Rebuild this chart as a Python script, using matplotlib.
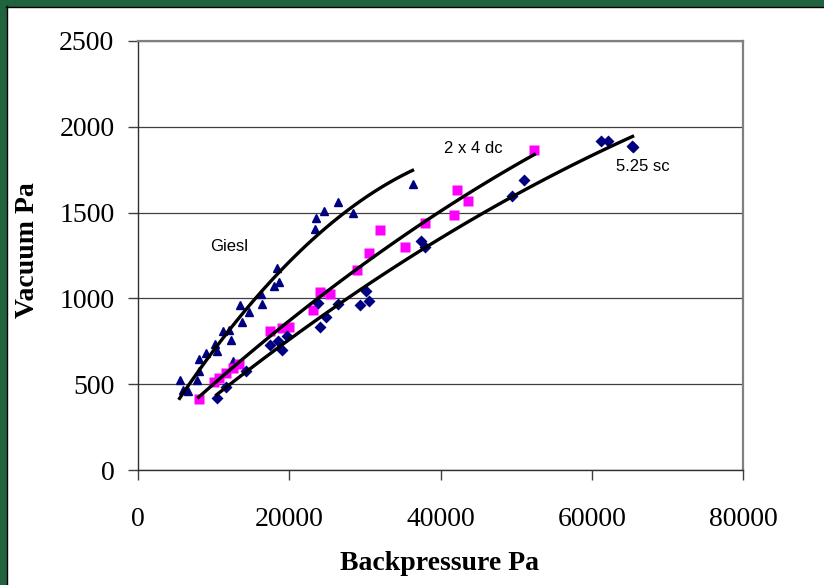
import numpy as np
import matplotlib.pyplot as plt
from matplotlib.patches import Rectangle

# datos (Pa)
giesl_x = [5500, 5900, 6600, 7800, 8000, 8100, 9000, 10400, 10200, 11300, 12300, 12000, 12600, 13700,
           13500, 14700, 16200, 16400, 18000, 18700, 18400, 23400, 23600, 24600, 26400, 28400, 36300]
giesl_y = [525, 465, 460, 525, 575, 645, 680, 695, 735, 810, 755, 815, 635, 860,
           960, 920, 1025, 970, 1075, 1095, 1180, 1405, 1470, 1510, 1560, 1500, 1665]

dc_x = [8000, 10000, 10700, 11700, 12600, 13400, 17400, 19100, 20000, 23100, 24000, 25400, 28900,
        30600, 32000, 35300, 37900, 41800, 42200, 43700, 52400]
dc_y = [415, 515, 535, 565, 595, 620, 810, 830, 835, 935, 1035, 1025, 1165,
        1265, 1400, 1300, 1440, 1485, 1630, 1565, 1865]

sc_x = [10400, 11700, 14300, 17400, 18500, 19000, 19700, 23800, 24100, 24900, 26400, 29300, 30200,
        30500, 37400, 38000, 49500, 51000, 61200, 62100, 65400, 65300]
sc_y = [420, 485, 575, 730, 750, 700, 780, 975, 835, 890, 970, 960, 1045,
        985, 1335, 1300, 1595, 1690, 1920, 1920, 1880, 1890]

x_ticks = [0, 20000, 40000, 60000, 80000]
y_ticks = [0, 500, 1000, 1500, 2000, 2500]

plt.rcParams['font.family'] = ['Liberation Serif', 'DejaVu Serif']

fig = plt.figure(figsize=(8.24, 5.85), dpi=100)
fig.patch.set_facecolor('white')

# marco verde de la diapositiva (arriba e izquierda)
fig.add_artist(Rectangle((0, 1 - 6 / 585), 1, 6 / 585, transform=fig.transFigure, color='#21623f', zorder=0))
fig.add_artist(Rectangle((0, 0), 6 / 824, 1, transform=fig.transFigure, color='#21623f', zorder=0))
fig.add_artist(plt.Line2D([6 / 824, 1], [1 - 6.5 / 585, 1 - 6.5 / 585], transform=fig.transFigure, color='black', lw=1))
fig.add_artist(plt.Line2D([6.5 / 824, 6.5 / 824], [0, 1 - 6 / 585], transform=fig.transFigure, color='black', lw=1))

ax = fig.add_axes([138 / 824, 115 / 585, 605 / 824, 429 / 585])

ax.plot(giesl_x, giesl_y, '^', color='#000080', ms=6, zorder=3)
ax.plot(dc_x, dc_y, 's', color='#ff00ff', ms=7.2, mec='none', zorder=3)
ax.plot(sc_x, sc_y, 'D', color='#000080', ms=6, mec='none', zorder=3)

# lineas de tendencia (polinomio de orden 2)
for xs, ys in [(giesl_x, giesl_y), (dc_x, dc_y), (sc_x, sc_y)]:
    c = np.polyfit(xs, ys, 2)
    xx = np.linspace(min(xs), max(xs), 100)
    ax.plot(xx, np.polyval(c, xx), color='black', lw=2.4, zorder=4)

ax.set_xlim(0, 80000)
ax.set_ylim(0, 2500)
ax.set_xticks(x_ticks)
ax.set_yticks(y_ticks)
ax.tick_params(axis='both', labelsize=20, length=7, width=1, color='#404040')
ax.tick_params(axis='x', pad=20)
ax.tick_params(axis='y', pad=10)
ax.grid(axis='y', color='#404040', lw=0.9)
ax.set_axisbelow(True)
for s in ['top', 'right']:
    ax.spines[s].set_color('#808080')
    ax.spines[s].set_linewidth(1.6)
for s in ['left', 'bottom']:
    ax.spines[s].set_color('#303030')
    ax.spines[s].set_linewidth(1)

ax.text(9600, 1300, 'Giesl', family='Liberation Sans', fontsize=12, va='center')
ax.text(40500, 1875, '2 x 4 dc', family='Liberation Sans', fontsize=12, va='center')
ax.text(63200, 1766, '5.25 sc', family='Liberation Sans', fontsize=12, va='center')

fig.text(440 / 824, 1 - 563 / 585, 'Backpressure Pa', ha='center', va='center', fontsize=20, fontweight='bold')
fig.text(28 / 824, 1 - 250 / 585, 'Vacuum Pa', ha='center', va='center', rotation=90, fontsize=20, fontweight='bold')

fig.savefig('out.png', dpi=100)
